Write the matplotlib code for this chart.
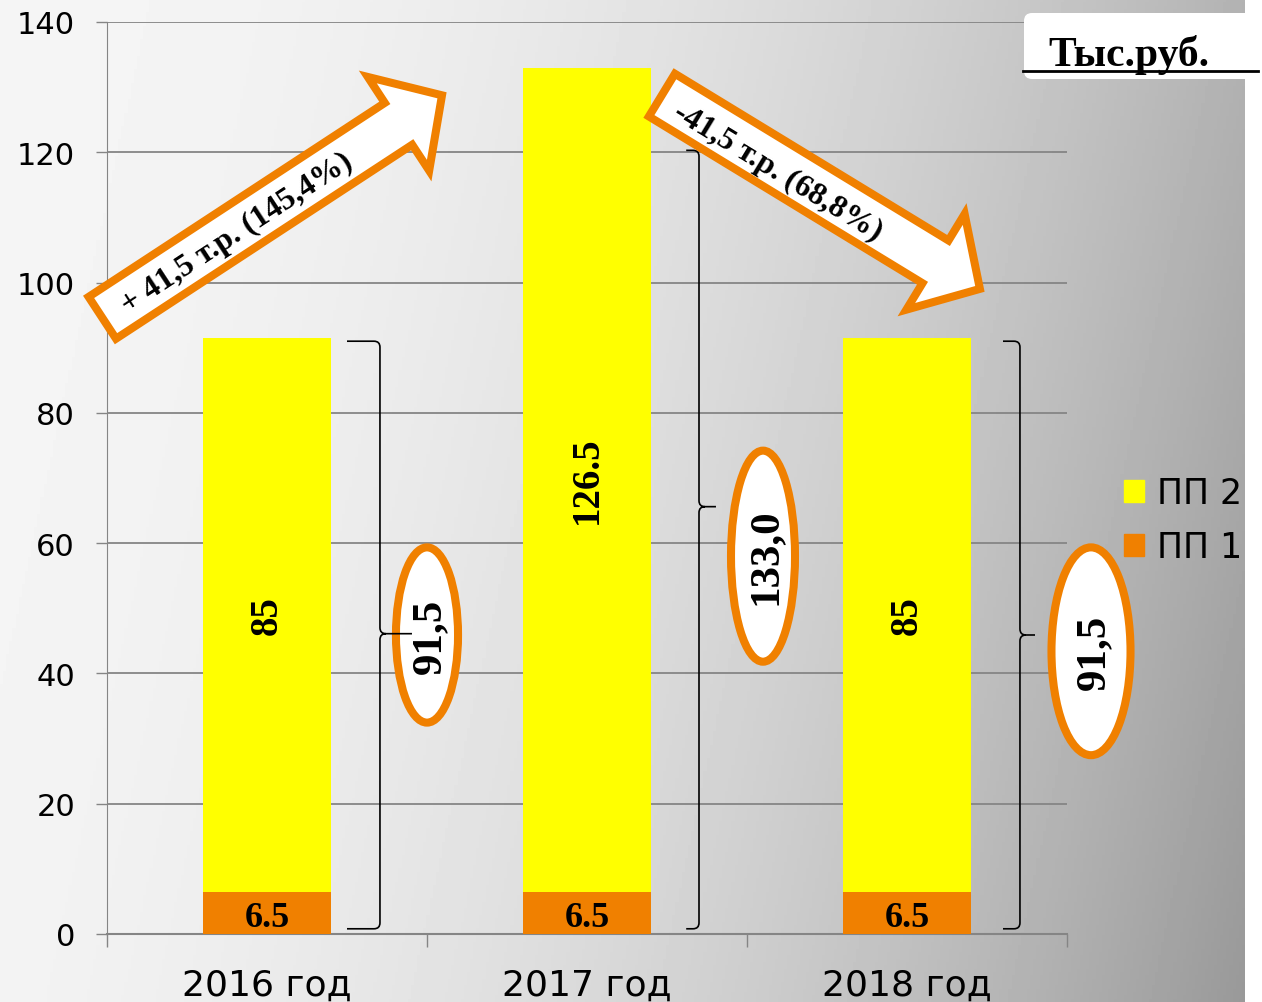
import numpy as np
import matplotlib
matplotlib.use("Agg")
import matplotlib.pyplot as plt
from matplotlib.patches import Ellipse, Polygon, FancyBboxPatch, Rectangle, PathPatch
from matplotlib.path import Path

years = ["2016 год", "2017 год", "2018 год"]
pp1 = [6.5, 6.5, 6.5]
pp2 = [85, 126.5, 85]
totals_txt = ["91,5", "133,0", "91,5"]
arrow_txt = ["+ 41,5 т.р. (145,4%)", "-41,5 т.р. (68,8%)"]
unit_txt = "Тыс.руб."

YELLOW = "#FFFF00"
ORANGE = "#F08000"
GRID = "#858585"
SERIF = ["Liberation Serif", "DejaVu Serif"]

W, H = 1262, 1003
fig = plt.figure(figsize=(W / 100, H / 100), dpi=100)

# grey gradient background (ends a bit before the right edge)
bg = fig.add_axes([0, 0, 1245 / W, 1])
gx, gy = np.meshgrid(np.linspace(0, 1245, 400), np.linspace(0, H, 300))
s = np.clip((0.92 * gx + 0.2 * gy) / (0.92 * 1245 + 200), 0, 1)
v = (245 - 92 * s ** 2.0) / 255
bg.imshow(v, cmap="gray", vmin=0, vmax=1, aspect="auto", extent=[0, 1, 0, 1], origin="upper")
bg.set_xlim(0, 1)
bg.set_ylim(0, 1)
bg.axis("off")

# main chart
ax = fig.add_axes([107 / W, 1 - 935 / H, 960 / W, 912 / H])
ax.set_facecolor("none")
x = np.arange(len(years))
ax.bar(x, pp1, width=0.4, color=ORANGE, zorder=3)
ax.bar(x, pp2, bottom=pp1, width=0.4, color=YELLOW, zorder=3)
ax.set_xlim(-0.5, 2.5)
ax.set_ylim(0, 140)
ax.set_yticks(range(0, 141, 20))
ax.set_axisbelow(True)
ax.yaxis.grid(True, color=GRID, lw=1.3)
ax.set_xticks(x, years)
ax.set_xticks([-0.5, 0.5, 1.5, 2.5], minor=True)
ax.tick_params(axis="x", which="major", length=0, pad=24, labelsize=26)
ax.tick_params(axis="x", which="minor", length=9, color=GRID, width=1)
ax.tick_params(axis="y", length=8, color=GRID, width=1, pad=15, labelsize=22)
for side in ["top", "right"]:
    ax.spines[side].set_visible(False)
ax.spines["left"].set_color(GRID)
ax.spines["bottom"].set_color(GRID)
ax.spines["bottom"].set_linewidth(1.5)

for i in x:
    ax.text(i, pp1[i] / 2 - 0.7, f"{pp1[i]:g}", ha="center", va="center", fontsize=26,
            fontweight="bold", family=SERIF, zorder=4)
    ax.text(i, pp1[i] + pp2[i] / 2, f"{pp2[i]:g}", ha="center", va="center", rotation=90,
            fontsize=28, fontweight="bold", family=SERIF, zorder=4)

# ellipses with totals
ell = [(0.5, 45.9, 0.194, 26.9), (1.55, 58.0, 0.20, 32.4), (2.575, 43.4, 0.247, 31.9)]
for (cx, cy, ew, eh), t in zip(ell, totals_txt):
    ax.add_patch(Ellipse((cx, cy), ew, eh, fc="white", ec=ORANGE, lw=5.8, zorder=4, clip_on=False))
    ax.text(cx + 0.01, cy, t, rotation=90, ha="center", va="center", fontsize=31,
            fontweight="bold", family=SERIF, zorder=5, clip_on=False)

# braces
def brace(x0, x1, xt, ytop, ybot, ymid, r=6):
    rx, ry = r / 320, r / 6.514
    verts = [(x0, ytop), (x1 - rx, ytop), (x1, ytop), (x1, ytop - ry),
             (x1, ymid + ry), (x1, ymid), (x1 + rx, ymid), (xt, ymid),
             (x1 + rx, ymid), (x1, ymid), (x1, ymid - ry),
             (x1, ybot + ry), (x1, ybot), (x1 - rx, ybot), (x0, ybot)]
    codes = [Path.MOVETO, Path.LINETO, Path.CURVE3, Path.CURVE3,
             Path.LINETO, Path.CURVE3, Path.CURVE3, Path.LINETO,
             Path.MOVETO, Path.CURVE3, Path.CURVE3,
             Path.LINETO, Path.CURVE3, Path.CURVE3, Path.LINETO]
    return PathPatch(Path(verts, codes), fc="none", ec="black", lw=1.2, zorder=6, clip_on=False)

ax.add_patch(brace(0.25, 0.353, 0.453, 91.0, 0.8, 46.1))
ax.add_patch(brace(1.31, 1.35, 1.403, 120.3, 0.8, 65.6))
ax.add_patch(brace(2.30, 2.353, 2.40, 91.0, 0.8, 45.9))

handles = [Rectangle((0, 0), 1, 1, color=YELLOW), Rectangle((0, 0), 1, 1, color=ORANGE)]
fig.legend(handles, ["ПП 2", "ПП 1"], loc="upper left", bbox_to_anchor=(1124 / W, 1 - 477 / H),
           frameon=False, fontsize=25, handlelength=0.58, handleheight=0.58, handletextpad=0.36,
           labelspacing=0.58, borderpad=0, borderaxespad=0)

# overlay in pixel coords for arrows and unit box
ov = fig.add_axes([0, 0, 1, 1], zorder=10)
ov.set_xlim(0, W)
ov.set_ylim(H, 0)
ov.axis("off")


def block_arrow(tail, tip, txt, tc, sw=25, hw=56, hl=52):
    t = np.array(tail, float)
    p = np.array(tip, float)
    u = (p - t) / np.linalg.norm(p - t)
    n = np.array([-u[1], u[0]])
    b = p - hl * u
    pts = [t + sw * n, b + sw * n, b + hw * n, p, b - hw * n, b - sw * n, t - sw * n]
    ov.add_patch(Polygon(pts, closed=True, fc="white", ec=ORANGE, lw=5.8, joinstyle="miter"))
    ang = np.degrees(np.arctan2(-u[1], u[0]))
    ov.text(tc[0], tc[1], txt, rotation=ang, rotation_mode="anchor", ha="center", va="center",
            fontsize=23, fontweight="bold", family=SERIF)


block_arrow((102.3, 318.8), (442, 96.3), arrow_txt[0], (237, 234))
block_arrow((661.9, 96.1), (979.9, 289.9), arrow_txt[1], (778, 173))

ov.add_patch(FancyBboxPatch((1024, 14), 260, 66, boxstyle="round,pad=0,rounding_size=8",
                            fc="white", ec="none", clip_on=False))
ov.text(1048, 66, unit_txt, ha="left", va="baseline", fontsize=30, fontweight="bold", family=SERIF)
ov.plot([1023, 1258], [72, 72], color="black", lw=2.0)

fig.savefig("out.png", dpi=100)
